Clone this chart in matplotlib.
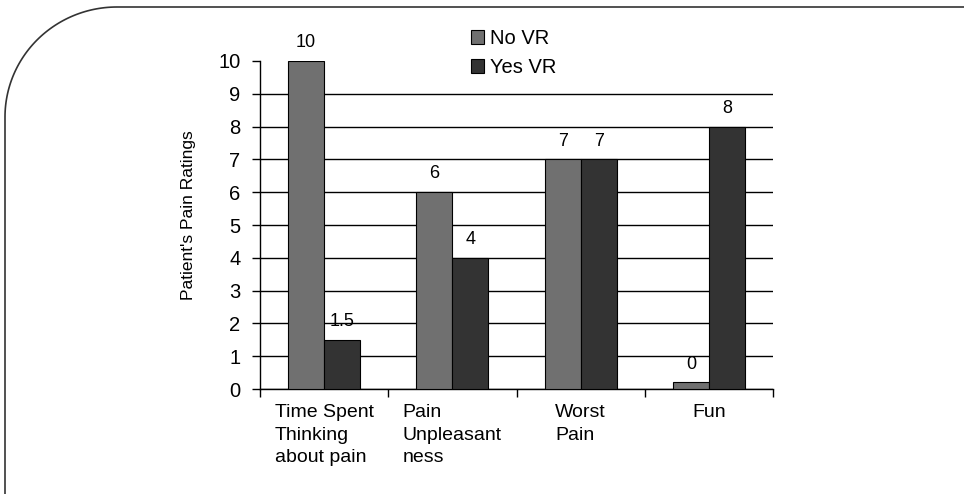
import numpy as np
import matplotlib
matplotlib.use("Agg")
import matplotlib.pyplot as plt
from matplotlib.lines import Line2D

# ---- data ----
categories = ["Time Spent\nThinking\nabout pain", "Pain\nUnpleasant\nness", "Worst\nPain", "Fun"]
no_vr = [10, 6, 7, 0.2]          # "0" bar is drawn as a sliver in the original
yes_vr = [1.5, 4, 7, 8]
no_vr_labels = ["10", "6", "7", "0"]
yes_vr_labels = ["1.5", "4", "7", "8"]
series_names = ["No VR", "Yes VR"]
y_ticks = list(range(0, 11))

plt.rcParams['font.family'] = ['Liberation Sans', 'DejaVu Sans']

W, H = 964, 494
fig = plt.figure(figsize=(W / 100, H / 100), dpi=100)
fig.patch.set_facecolor("white")

# axes placed in pixel terms
left_px, right_px, top_px, bottom_px = 260, 773, 61, 389
ax = fig.add_axes([left_px / W, 1 - bottom_px / H,
                   (right_px - left_px) / W, (bottom_px - top_px) / H])

x = np.arange(len(categories))
bw = 0.281
c_no, c_yes = "#707070", "#333333"
b1 = ax.bar(x - bw / 2, no_vr, bw, color=c_no, edgecolor="black", linewidth=0.8, label=series_names[0], zorder=3)
b2 = ax.bar(x + bw / 2, yes_vr, bw, color=c_yes, edgecolor="black", linewidth=0.8, label=series_names[1], zorder=3)
ax.bar_label(b1, labels=no_vr_labels, padding=7, fontsize=13)
ax.bar_label(b2, labels=yes_vr_labels, padding=7, fontsize=13)

ax.set_xlim(-0.5, len(categories) - 0.5)
ax.set_ylim(0, 10)
ax.set_yticks(y_ticks)
ax.set_yticklabels([str(t) for t in y_ticks], fontsize=14.5)
ax.tick_params(axis='y', length=6, width=1, pad=8, color='black')

ax.set_xticks(x)
ax.set_xticklabels(categories, fontsize=14, ha='center', multialignment='left', linespacing=1.42)
ax.set_xticks(np.arange(-0.5, len(categories), 1), minor=True)
ax.tick_params(axis='x', which='major', length=0, pad=11)
ax.tick_params(axis='x', which='minor', length=6, width=1, direction='out', color='black')

ax.set_axisbelow(True)
ax.grid(axis='y', color='black', linewidth=1)
ax.get_ygridlines()[-1].set_visible(False)

for s in ["top", "right"]:
    ax.spines[s].set_visible(False)
for s in ["left", "bottom"]:
    ax.spines[s].set_color("black")
    ax.spines[s].set_linewidth(1)

ax.set_ylabel("Patient's Pain Ratings", fontsize=12.5)
ax.yaxis.set_label_coords(-0.125, 0.53)

fig.legend(handles=[b1, b2], loc='upper left', bbox_to_anchor=(471 / W, 1 - 29 / H),
           frameon=False, fontsize=14.5, handlelength=0.65, handleheight=0.65,
           handletextpad=0.3, labelspacing=0.5, borderaxespad=0, borderpad=0)

# rounded border frame (top and left edges with a large rounded corner)
r_x, r_y = 112, 110
x0, y0 = 5, 7
t = np.linspace(np.pi, 1.5 * np.pi, 60)
cx, cy = x0 + r_x, y0 + r_y
arc_x = cx + r_x * np.cos(t)
arc_y = cy + r_y * np.sin(t)
px = np.concatenate([[x0], arc_x, [W]])
py = np.concatenate([[H], arc_y, [y0]])
fig.add_artist(Line2D(px / W, 1 - py / H, transform=fig.transFigure, color="#333333", linewidth=1.2))

fig.savefig("out.png", dpi=100, facecolor="white")
